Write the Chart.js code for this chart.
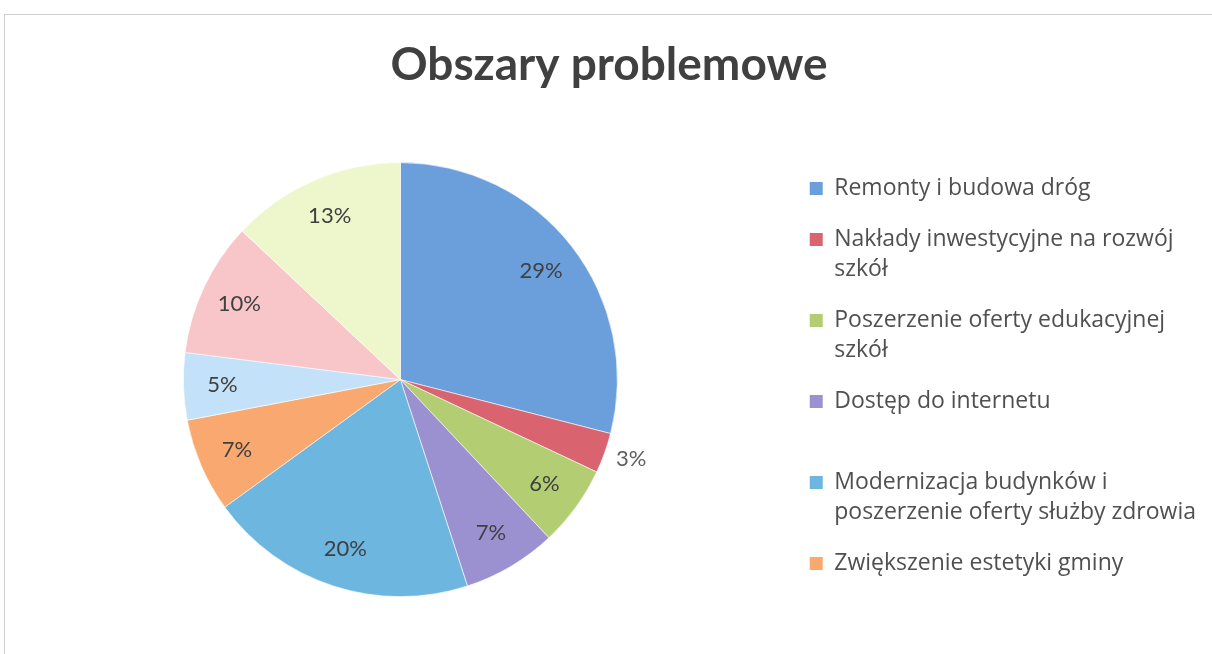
<!DOCTYPE html>
<html>
<head>
<meta charset="utf-8">
<title>Obszary problemowe</title>
<script src="https://cdn.jsdelivr.net/npm/chart.js@4/dist/chart.umd.min.js"></script>
<style>
  html, body { margin: 0; padding: 0; background: #fff; overflow: hidden; }
  .frame {
    position: absolute; left: 4px; top: 14px; width: 1400px; height: 800px;
    border-top: 1px solid #cfcfcf; border-left: 1px solid #cfcfcf;
  }
  .chart-box { position: absolute; left: 0; top: 0; width: 1212px; height: 654px; }
</style>
</head>
<body>
<div class="frame"></div>
<div class="chart-box">
  <canvas id="pieChart"></canvas>
</div>
<script>
// categories (legend in the source is cut after six entries, the last three names can't be read)
const categories = [
  "Remonty i budowa dróg",
  "Nakłady inwestycyjne na rozwój\nszkół",
  "Poszerzenie oferty edukacyjnej\nszkół",
  "Dostęp do internetu",
  "Modernizacja budynków i\nposzerzenie oferty służby zdrowia",
  "Zwiększenie estetyki gminy",
  "",
  "",
  ""
];
const shares = [29, 3, 6, 7, 20, 7, 5, 10, 13];
const sliceColors = [
  "#6a9fdc", "#d9636e", "#b3cd72", "#9c91d0", "#6db6df",
  "#f9a970", "#c3e1f8", "#f8c5c9", "#eef6cb"
];

const textGrey = "#404040";

// labels at the slice middle, small ones pushed outside like Excel's best fit
const sliceLabels = {
  id: "sliceLabels",
  afterDatasetsDraw(chart) {
    const ctx = chart.ctx;
    const meta = chart.getDatasetMeta(0);
    ctx.save();
    ctx.font = "22px Lato";
    ctx.textAlign = "center";
    ctx.textBaseline = "middle";
    meta.data.forEach((arc, i) => {
      const p = arc.getProps(["x", "y", "startAngle", "endAngle", "outerRadius"], true);
      const mid = (p.startAngle + p.endAngle) / 2;
      const outside = shares[i] < 4;
      const r = p.outerRadius * (outside ? 1.13 : 0.82);
      ctx.fillStyle = outside ? "#5f5f5f" : textGrey;
      ctx.fillText(shares[i] + "%", p.x + Math.cos(mid) * r, p.y + Math.sin(mid) * r - (outside ? 4 : 0));
    });
    ctx.restore();
  }
};

new Chart(document.getElementById("pieChart"), {
  type: "pie",
  data: {
    labels: categories,
    datasets: [{
      data: shares,
      backgroundColor: sliceColors,
      borderColor: "rgba(255,255,255,0.6)",
      borderWidth: 1,
      radius: 217
    }]
  },
  options: {
    responsive: true,
    maintainAspectRatio: false,
    animation: false,
    layout: { padding: { left: 12, right: 6, top: 0, bottom: 25 } },
    plugins: {
      title: {
        display: true,
        text: "Obszary problemowe",
        color: textGrey,
        font: { family: "Lato", size: 46, weight: "bold", lineHeight: 1.2 },
        padding: { top: 38, bottom: 37 }
      },
      legend: {
        position: "right",
        align: "start",
        // empty title only used as a top spacer for the legend column
        title: { display: true, text: "", font: { size: 1, lineHeight: 1 }, padding: { top: 155, bottom: 0 } },
        labels: {
          color: "#505050",
          font: { family: "Open Sans", size: 23, lineHeight: 30 / 23 },
          boxWidth: 13,
          boxHeight: 13,
          padding: 21,
          generateLabels(chart) {
            const items = [];
            categories.forEach((name, i) => {
              if (!name) return;
              const lines = name.split("\n");
              // Excel left an empty row below "Dostęp do internetu"
              if (i === 3) lines.push("");
              items.push({
                text: lines,
                fillStyle: sliceColors[i],
                strokeStyle: sliceColors[i],
                lineWidth: 0,
                fontColor: "#505050",
                index: i
              });
            });
            return items;
          }
        }
      },
      tooltip: { enabled: false }
    }
  },
  plugins: [sliceLabels]
});
</script>
</body>
</html>
